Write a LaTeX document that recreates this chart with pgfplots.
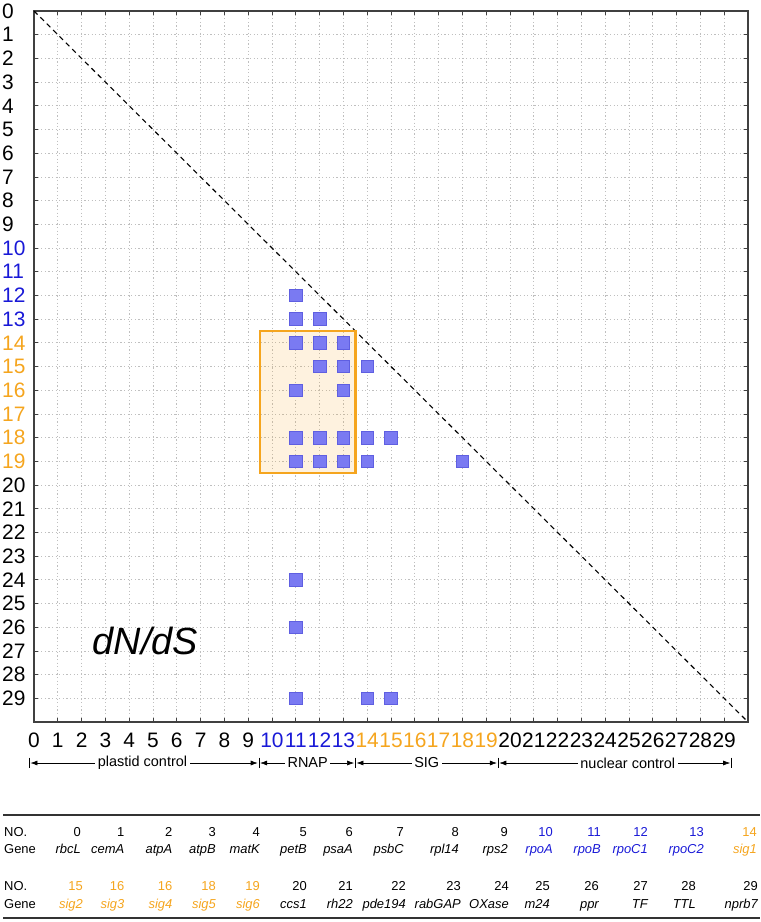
\documentclass[border=0pt]{standalone}
\usepackage{fontspec}
\setmainfont{Liberation Sans}
\usepackage{pgfplots}
\pgfplotsset{compat=1.18}
\usetikzlibrary{arrows.meta}
\definecolor{myblue}{RGB}{25,25,215}
\definecolor{myorange}{RGB}{245,165,30}
\definecolor{sqfill}{RGB}{122,122,242}
\definecolor{sqedge}{RGB}{95,95,225}
\newcommand{\B}[1]{\textcolor{myblue}{#1}}
\newcommand{\Or}[1]{\textcolor{myorange}{#1}}
\begin{document}
\begin{tikzpicture}
\useasboundingbox (0,0) rectangle (761bp,922bp);
\begin{axis}[
  at={(34bp,200bp)}, anchor=south west,
  width=714bp, height=711bp, scale only axis,
  xmin=0, xmax=30, ymin=0, ymax=30, y dir=reverse,
  xtick={0,...,29}, ytick={0,...,29},
  xticklabels={0,1,2,3,4,5,6,7,8,9,\B{10},\B{11},\B{12},\B{13},\Or{14},\Or{15},\Or{16},\Or{17},\Or{18},\Or{19},20,21,22,23,24,25,26,27,28,29},
  yticklabels={0,1,2,3,4,5,6,7,8,9,\B{10},\B{11},\B{12},\B{13},\Or{14},\Or{15},\Or{16},\Or{17},\Or{18},\Or{19},20,21,22,23,24,25,26,27,28,29},
  tick label style={font=\fontsize{21}{24}\selectfont},
  xticklabel style={anchor=north, inner sep=0pt, yshift=-11bp},
  yticklabel style={anchor=west, inner sep=0pt, xshift=-32bp},
  grid=major,
  major grid style={black!25, dash pattern=on 1.2bp off 2.4bp, line width=0.7bp},
  axis line style={draw=black!75, line width=1.6bp},
  major tick length=4bp,
  tick style={black!75, line width=0.8bp},
  clip=false,
]
\addplot[black, line width=1.1bp, dash pattern=on 5bp off 4bp] coordinates {(0,0) (30,30)};
\addplot[only marks, mark=square*, mark size=6.3bp, mark options={fill=sqfill, draw=sqedge, line width=0.8bp}] coordinates {
 (11,12) (11,13) (12,13)
 (11,14) (12,14) (13,14)
 (12,15) (13,15) (14,15)
 (11,16) (13,16)
 (11,18) (12,18) (13,18) (14,18) (15,18)
 (11,19) (12,19) (13,19) (14,19) (18,19)
 (11,24) (11,26)
 (11,29) (14,29) (15,29)
};
\addplot[draw=myorange, line width=2.6bp, fill=myorange, fill opacity=0.14] coordinates {(9.5,13.5) (13.5,13.5) (13.5,19.5) (9.5,19.5)} -- cycle;
\node[font=\fontsize{38}{42}\selectfont\itshape] at (axis cs:4.68,26.6) {dN/dS};
% group annotations
\draw[black, line width=0.7bp] (axis cs:-0.2,31.5) -- (axis cs:-0.2,31.96);
\draw[black, line width=0.7bp] (axis cs:9.45,31.5) -- (axis cs:9.45,31.96);
\draw[black, line width=0.7bp] (axis cs:13.5,31.5) -- (axis cs:13.5,31.96);
\draw[black, line width=0.7bp] (axis cs:19.5,31.5) -- (axis cs:19.5,31.96);
\draw[black, line width=0.7bp] (axis cs:29.3,31.5) -- (axis cs:29.3,31.96);
\draw[{Latex[length=7bp,width=5bp]}-{Latex[length=7bp,width=5bp]}, line width=0.6bp] (axis cs:-0.15,31.73) -- (axis cs:9.4,31.73);
\draw[{Latex[length=7bp,width=5bp]}-{Latex[length=7bp,width=5bp]}, line width=0.6bp] (axis cs:9.5,31.73) -- (axis cs:13.45,31.73);
\draw[{Latex[length=7bp,width=5bp]}-{Latex[length=7bp,width=5bp]}, line width=0.6bp] (axis cs:13.55,31.73) -- (axis cs:19.45,31.73);
\draw[{Latex[length=7bp,width=5bp]}-{Latex[length=7bp,width=5bp]}, line width=0.6bp] (axis cs:19.55,31.73) -- (axis cs:29.25,31.73);
\node[fill=white, inner sep=2.5bp, font=\fontsize{14.5}{16}\selectfont] at (axis cs:4.56,31.73) {plastid control};
\node[fill=white, inner sep=2.5bp, font=\fontsize{14.5}{16}\selectfont] at (axis cs:11.5,31.73) {RNAP};
\node[fill=white, inner sep=2.5bp, font=\fontsize{14.5}{16}\selectfont] at (axis cs:16.5,31.73) {SIG};
\node[fill=white, inner sep=2.5bp, font=\fontsize{14.5}{16}\selectfont] at (axis cs:24.95,31.73) {nuclear control};
\end{axis}
% table
\draw[black!80, line width=1.3bp] (3bp,107bp) -- (760bp,107bp);
\draw[black!80, line width=1.3bp] (3bp,4bp) -- (760bp,4bp);
\tikzset{tb/.style={inner sep=0pt, font=\fontsize{13}{15}\selectfont}}
\node[tb, anchor=base west] at (4bp,85.3bp) {NO.};
\node[tb, anchor=base west] at (4bp,68.7bp) {Gene};
\node[tb, anchor=base west] at (4bp,31.3bp) {NO.};
\node[tb, anchor=base west] at (4bp,14bp) {Gene};
\foreach \x/\n/\g/\c in {81/0/rbcL/black, 124.5/1/cemA/black, 172.5/2/atpA/black, 216/3/atpB/black, 260/4/matK/black, 307/5/petB/black, 353/6/psaA/black, 404/7/psbC/black, 459/8/rpl14/black, 508/9/rps2/black, 553/10/rpoA/myblue, 601/11/rpoB/myblue, 648/12/rpoC1/myblue, 704/13/rpoC2/myblue, 757/14/sig1/myorange}{
  \node[tb, anchor=base east, text=\c] at (\x bp,85.3bp) {\n};
  \node[tb, anchor=base east, text=\c] at (\x bp,68.7bp) {\itshape\g};
}
\foreach \x/\n/\g/\c in {83/15/sig2/myorange, 124.5/16/sig3/myorange, 172.5/16/sig4/myorange, 216/18/sig5/myorange, 260/19/sig6/myorange, 307/20/ccs1/black, 353/21/rh22/black, 406/22/pde194/black, 461/23/rabGAP/black, 509/24/OXase/black, 550/25/m24/black, 599/26/ppr/black, 648/27/TF/black, 696/28/TTL/black, 758/29/nprb7/black}{
  \node[tb, anchor=base east, text=\c] at (\x bp,31.3bp) {\n};
  \node[tb, anchor=base east, text=\c] at (\x bp,14bp) {\itshape\g};
}
\end{tikzpicture}
\end{document}
